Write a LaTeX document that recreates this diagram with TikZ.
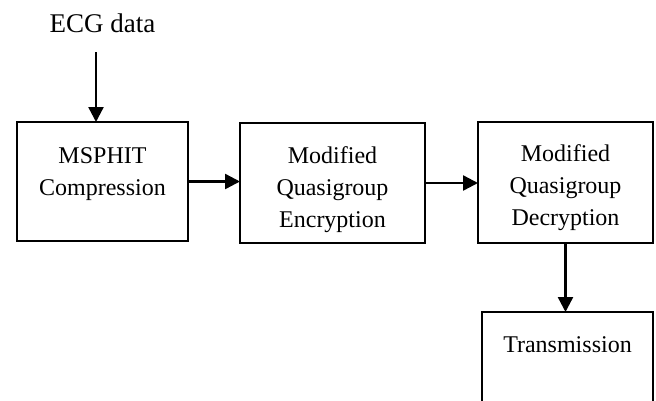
\documentclass[tikz,border=0pt]{standalone}
\usepackage{fontspec}
\setmainfont{Liberation Serif}
\usetikzlibrary{arrows.meta}
\begin{document}
\begin{tikzpicture}[x=1pt,y=-1pt,
  box/.style={draw,line width=1.8pt,inner sep=0pt,outer sep=0pt},
  lbl/.style={anchor=north,inner sep=0pt,align=center,font=\fontsize{24}{32}\selectfont},
  arr/.style={line width=2.4pt,-{Triangle[length=15pt,width=15pt]}}]
\useasboundingbox (0,0) rectangle (656,400);
\clip (0,0) rectangle (656,400);
\node[anchor=base,inner sep=0pt,font=\fontsize{27}{32}\selectfont] (ecg) at (102.5,32) {ECG data};
\coordinate (in) at (96,52);
\node[box,minimum width=171pt,minimum height=119pt] (b1) at (102.5,181.5) {};
\node[box,minimum width=185pt,minimum height=120pt] (b2) at (332.5,183) {};
\node[box,minimum width=175pt,minimum height=121pt] (b3) at (565.5,182.5) {};
\node[box,minimum width=171pt,minimum height=120pt] (b4) at (567.5,372) {};
\node[lbl] (t1) at (102.5,147) {MSPHIT\\Compression};
\node[lbl] (t2) at (332.5,146) {Modified\\Quasigroup\\Encryption};
\node[lbl] (t3) at (565.5,144) {Modified\\Quasigroup\\Decryption};
\node[lbl] (t4) at (567.5,336) {Transmission};
\draw[arr] (in) -- (in |- b1.north);
\draw[arr] (b1.east) -- (b1.east -| b2.west);
\draw[arr] (b2.east) -- (b2.east -| b3.west);
\draw[arr] (b3.south) -- (b3.south |- b4.north);
\end{tikzpicture}
\end{document}
